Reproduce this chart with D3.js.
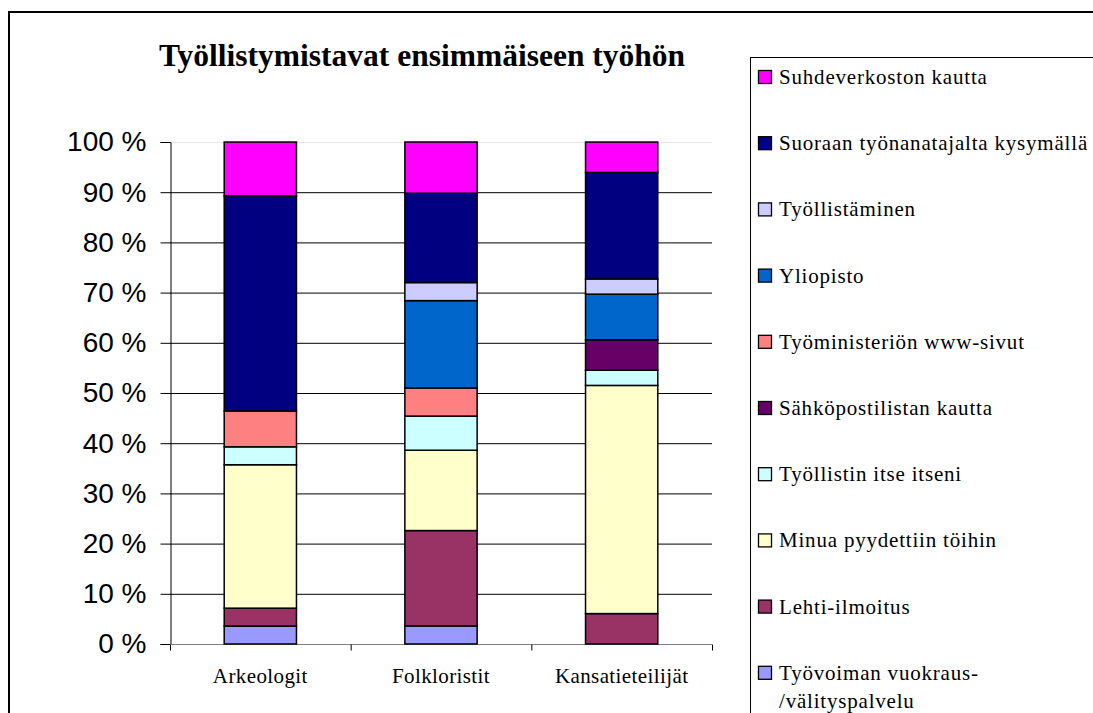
<!DOCTYPE html>
<html>
<head>
<meta charset="utf-8">
<script src="https://cdn.jsdelivr.net/npm/d3@7"></script>
<style>
	body { margin: 0; background: #fff; }
	svg { display: block; }
</style>
</head>
<body>
<svg id="chart" width="1093" height="713"></svg>
<script>
// categories on the x axis
var categories = ["Arkeologit", "Folkloristit", "Kansatieteilijät"];
// series, bottom of stack first
var seriesNames = [
	"Työvoiman vuokraus-/välityspalvelu",
	"Lehti-ilmoitus",
	"Minua pyydettiin töihin",
	"Työllistin itse itseni",
	"Sähköpostilistan kautta",
	"Työministeriön www-sivut",
	"Yliopisto",
	"Työllistäminen",
	"Suoraan työnanatajalta kysymällä",
	"Suhdeverkoston kautta"
];
var seriesColors = ["#9999FF", "#993366", "#FFFFCC", "#CCFFFF", "#660066", "#FF8080", "#0066CC", "#CCCCFF", "#000080", "#FF00FF"];
// percent values per series, in category order
var tyovoima = [3.57, 3.6, 0];
var lehti = [3.57, 19.0, 6.06];
var minua = [28.57, 16.0, 45.45];
var itse = [3.57, 6.8, 3.03];
var sahkoposti = [0, 0, 6.06];
var tyoministerio = [7.14, 5.6, 0];
var yliopisto = [0, 17.4, 9.09];
var tyollistaminen = [0, 3.6, 3.03];
var suoraan = [42.86, 17.8, 21.21];
var suhde = [10.71, 10.2, 6.06];
var yTicks = [0, 10, 20, 30, 40, 50, 60, 70, 80, 90, 100];

var values = [tyovoima, lehti, minua, itse, sahkoposti, tyoministerio, yliopisto, tyollistaminen, suoraan, suhde];

var serif = "'Liberation Serif', 'Times New Roman', serif";
var svg = d3.select("#chart");

// outer chart frame
svg.append("rect")
	.attr("x", 9).attr("y", 12)
	.attr("width", 1100).attr("height", 720)
	.attr("fill", "none")
	.attr("stroke", "#000")
	.attr("stroke-width", 2);

svg.append("text")
	.attr("x", 422).attr("y", 66)
	.attr("text-anchor", "middle")
	.style("font-family", serif)
	.style("font-weight", "bold")
	.style("font-size", "31.5px")
	.text("Työllistymistavat ensimmäiseen työhön");

var x = d3.scaleBand()
	.domain(categories)
	.range([170, 712])
	.paddingInner(0.6)
	.paddingOuter(0.3);

var y = d3.scaleLinear()
	.domain([0, 100])
	.range([644, 142]);

// build rows for d3.stack
var rows = categories.map(function(c, i) {
	var row = { cat: c };
	seriesNames.forEach(function(s, j) { row[s] = values[j][i]; });
	return row;
});
var stacked = d3.stack().keys(seriesNames)(rows);

// gridlines
svg.append("g").selectAll("line")
	.data(yTicks.filter(function(t) { return t > 0; }))
	.enter().append("line")
	.attr("x1", 170).attr("x2", 712)
	.attr("y1", function(d) { return y(d) + 0.5; })
	.attr("y2", function(d) { return y(d) + 0.5; })
	.attr("stroke", function(d) { return d == 100 ? "#e6e6e6" : "#000"; })
	.attr("stroke-width", 1);

// y axis
var yAxis = svg.append("g")
	.attr("transform", "translate(170.5,0)")
	.call(d3.axisLeft(y).tickValues(yTicks).tickSize(10).tickPadding(14)
		.tickFormat(function(d) { return d + " %"; }));
yAxis.select(".domain").attr("stroke", "#000");
yAxis.selectAll("text")
	.style("font-family", "'Liberation Sans', Arial, sans-serif")
	.style("font-size", "28px")
	.attr("fill", "#000");

// x axis
var xAxis = svg.append("g")
	.attr("transform", "translate(0,644.5)");
xAxis.append("line")
	.attr("x1", 170).attr("x2", 712)
	.attr("stroke", "#808080");
xAxis.selectAll("line.tick")
	.data(d3.range(categories.length + 1))
	.enter().append("line").attr("class", "tick")
	.attr("x1", function(d) { return 170.5 + d * x.step(); })
	.attr("x2", function(d) { return 170.5 + d * x.step(); })
	.attr("y1", 0).attr("y2", 6)
	.attr("stroke", "#000");
xAxis.selectAll("text")
	.data(categories)
	.enter().append("text")
	.attr("x", function(d) { return x(d) + x.bandwidth() / 2; })
	.attr("y", 38)
	.attr("text-anchor", "middle")
	.style("font-family", serif)
	.style("font-size", "21px")
	.style("letter-spacing", "0.4px")
	.text(function(d) { return d; });

// bars
stacked.forEach(function(layer, j) {
	svg.append("g").selectAll("rect")
		.data(layer.filter(function(d) { return d[1] - d[0] > 0; }))
		.enter().append("rect")
		.attr("x", function(d) { return x(d.data.cat); })
		.attr("y", function(d) { return y(d[1]); })
		.attr("width", x.bandwidth())
		.attr("height", function(d) { return y(d[0]) - y(d[1]); })
		.attr("fill", seriesColors[j])
		.attr("stroke", "#000")
		.attr("stroke-width", 1.5);
});

// legend
var legend = svg.append("g");
legend.append("rect")
	.attr("x", 750.5).attr("y", 57.5)
	.attr("width", 400).attr("height", 700)
	.attr("fill", "#fff")
	.attr("stroke", "#000")
	.attr("stroke-width", 1);

var legendOrder = d3.range(seriesNames.length).reverse();
legendOrder.forEach(function(j, k) {
	var cy = 77 + k * 66.2;
	legend.append("rect")
		.attr("x", 758.5).attr("y", cy - 6.5)
		.attr("width", 13).attr("height", 13)
		.attr("fill", seriesColors[j])
		.attr("stroke", "#000")
		.attr("stroke-width", 1.3);
	var t = legend.append("text")
		.attr("x", 779).attr("y", cy + 7)
		.style("font-family", serif)
		.style("font-size", "21px")
		.style("letter-spacing", "0.8px");
	var name = seriesNames[j];
	if (name.indexOf("-/") >= 0) {
		t.text(name.split("/")[0]);
		legend.append("text")
			.attr("x", 779).attr("y", cy + 35)
			.style("font-family", serif)
			.style("font-size", "21px")
			.style("letter-spacing", "0.8px")
			.text("/" + name.split("/")[1]);
	} else {
		t.text(name);
	}
});
</script>
</body>
</html>
